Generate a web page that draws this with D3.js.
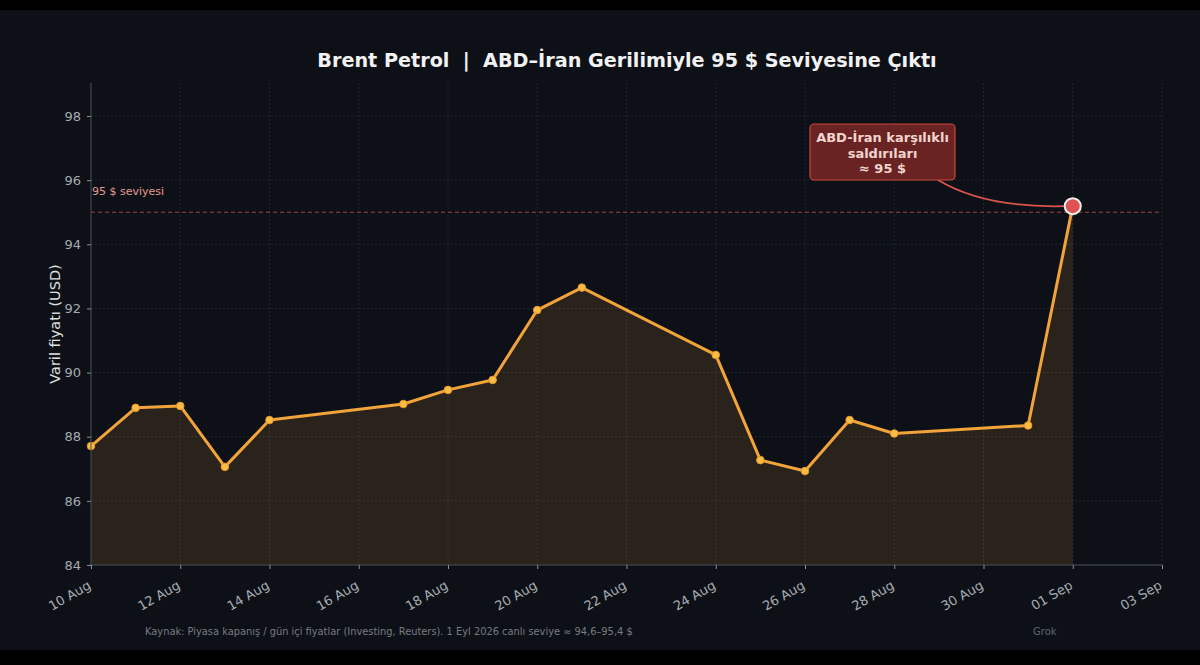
<!DOCTYPE html>
<html><head><meta charset="utf-8">
<script src="https://cdn.jsdelivr.net/npm/d3@7"></script>
<style>html,body{margin:0;padding:0;background:#000;}svg{display:block;}</style>
</head><body>
<script>
const dates = ["2026-08-10","2026-08-11","2026-08-12","2026-08-13","2026-08-14","2026-08-17","2026-08-18","2026-08-19","2026-08-20","2026-08-21","2026-08-24","2026-08-25","2026-08-26","2026-08-27","2026-08-28","2026-08-31","2026-09-01"];
const prices = [87.71,88.90,88.96,87.06,88.52,89.02,89.46,89.77,91.95,92.65,90.55,87.27,86.93,88.52,88.10,88.35,95.19];
const yTicks = [84,86,88,90,92,94,96,98];
const xTickDates = ["2026-08-10","2026-08-12","2026-08-14","2026-08-16","2026-08-18","2026-08-20","2026-08-22","2026-08-24","2026-08-26","2026-08-28","2026-08-30","2026-09-01","2026-09-03"];
const levelValue = 95;
const titleText = "Brent Petrol  |  ABD–İran Gerilimiyle 95 $ Seviyesine Çıktı";
const yLabel = "Varil fiyatı (USD)";
const levelLabel = "95 $ seviyesi";
const noteLines = ["ABD-İran karşılıklı","saldırıları","≈ 95 $"];
const sourceText = "Kaynak: Piyasa kapanış / gün içi fiyatlar (Investing, Reuters). 1 Eyl 2026 canlı seviye ≈ 94,6–95,4 $";
const brand = "Grok";

const W=1200,H=665;
const parse = d3.utcParse("%Y-%m-%d");
const data = dates.map((d,i)=>({date:parse(d),v:prices[i]}));
const m={l:91,r:1162,t:83,b:565};
const svg=d3.select("body").append("svg").attr("width",W).attr("height",H);
svg.append("rect").attr("width",W).attr("height",H).attr("fill","#000");
svg.append("rect").attr("x",0).attr("y",10).attr("width",W).attr("height",640).attr("fill","#0d1117");

const x=d3.scaleUtc().domain([parse("2026-08-10"),parse("2026-09-03")]).range([m.l,m.r]);
const y=d3.scaleLinear().domain([84,99.03]).range([m.b,m.t]);
const font="DejaVu Sans, sans-serif";

// grid
const g=svg.append("g");
g.selectAll(".gy").data(yTicks).join("line").attr("x1",m.l).attr("x2",m.r).attr("y1",d=>y(d)).attr("y2",d=>y(d))
 .attr("stroke","#272c35").attr("stroke-width",0.8).attr("stroke-dasharray","2,2");
g.selectAll(".gx").data(xTickDates.map(parse)).join("line").attr("x1",d=>x(d)).attr("x2",d=>x(d)).attr("y1",m.t).attr("y2",m.b)
 .attr("stroke","#272c35").attr("stroke-width",0.8).attr("stroke-dasharray","2,2");

// area
const area=d3.area().x(d=>x(d.date)).y0(y(84)).y1(d=>y(d.v));
svg.append("path").datum(data).attr("d",area).attr("fill","#f2a33a").attr("fill-opacity",0.13);

// level line
svg.append("line").attr("x1",m.l).attr("x2",m.r).attr("y1",y(levelValue)).attr("y2",y(levelValue))
 .attr("stroke","#d9534f").attr("stroke-opacity",0.75).attr("stroke-width",1).attr("stroke-dasharray","4,3");
svg.append("text").attr("x",m.l+1).attr("y",y(levelValue)-17).text(levelLabel)
 .attr("fill","#e39a94").attr("font-family",font).attr("font-size",11);

// line
const line=d3.line().x(d=>x(d.date)).y(d=>y(d.v));
svg.append("path").datum(data).attr("d",line).attr("fill","none").attr("stroke","#f2a33a").attr("stroke-width",3).attr("stroke-linejoin","round");
svg.selectAll(".pt").data(data.slice(0,-1)).join("circle").attr("cx",d=>x(d.date)).attr("cy",d=>y(d.v)).attr("r",3.8)
 .attr("fill","#f7bd45").attr("stroke","#e8952a").attr("stroke-width",1);

// axes
const yAxis=d3.axisLeft(y).tickValues(yTicks).tickSize(4).tickPadding(6).tickFormat(d3.format("d"));
const ya=svg.append("g").attr("transform",`translate(${m.l},0)`).call(yAxis);
ya.select(".domain").attr("stroke","#454b55").attr("d",`M0,${m.t}V${m.b}`);
ya.selectAll(".tick line").attr("stroke","#8a8f98");
ya.selectAll("text").attr("fill","#a7abb2").attr("font-family",font).attr("font-size",13);

const xAxis=d3.axisBottom(x).tickValues(xTickDates.map(parse)).tickSize(4).tickPadding(4).tickFormat(d3.utcFormat("%d %b"));
const xa=svg.append("g").attr("transform",`translate(0,${m.b})`).call(xAxis);
xa.select(".domain").attr("stroke","#454b55").attr("d",`M${m.l},0H${m.r}`);
xa.selectAll(".tick line").attr("stroke","#8a8f98");
xa.selectAll("text").attr("fill","#a7abb2").attr("font-family",font).attr("font-size",13)
 .attr("text-anchor","end").attr("y",0).attr("dy","0.35em").attr("transform","translate(-2,19) rotate(-30)");

// last point + annotation
const last=data[data.length-1];
const lx=x(last.date), ly=y(last.v);
const bx0=810,bx1=955,by0=124,by1=180;
svg.append("path").attr("d",`M${938},${by1} Q${985},${ly+2} ${lx-8},${ly}`).attr("fill","none").attr("stroke","#d9534f").attr("stroke-width",1.8);
svg.append("circle").attr("cx",lx).attr("cy",ly).attr("r",8).attr("fill","#e05252").attr("stroke","#f2f2f2").attr("stroke-width",2);
svg.append("rect").attr("x",bx0).attr("y",by0).attr("width",bx1-bx0).attr("height",by1-by0).attr("rx",4)
 .attr("fill","#6a2323").attr("stroke","#c9463f").attr("stroke-width",1.2);
svg.append("text").attr("x",(bx0+bx1)/2).attr("y",142).attr("text-anchor","middle").attr("font-family",font)
 .attr("font-size",13).attr("font-weight","bold").attr("fill","#f1d3cf")
 .selectAll("tspan").data(noteLines).join("tspan").attr("x",(bx0+bx1)/2).attr("dy",(d,i)=>i?15.5:0).text(d=>d);

// title, labels
svg.append("text").attr("x",627).attr("y",67).attr("text-anchor","middle").attr("font-family",font)
 .attr("font-size",19.2).attr("font-weight","bold").attr("fill","#f2f2f2").attr("xml:space","preserve").text(titleText);
svg.append("text").attr("transform",`translate(60,${(m.t+m.b)/2}) rotate(-90)`).attr("text-anchor","middle")
 .attr("font-family",font).attr("font-size",14.5).attr("fill","#e0e0e0").text(yLabel);
svg.append("text").attr("x",145).attr("y",635).attr("font-family",font).attr("font-size",9.85).attr("fill","#767b83").text(sourceText);
svg.append("text").attr("x",1033).attr("y",635).attr("font-family",font).attr("font-size",10).attr("fill","#5f646b").text(brand);
</script>
</body></html>
